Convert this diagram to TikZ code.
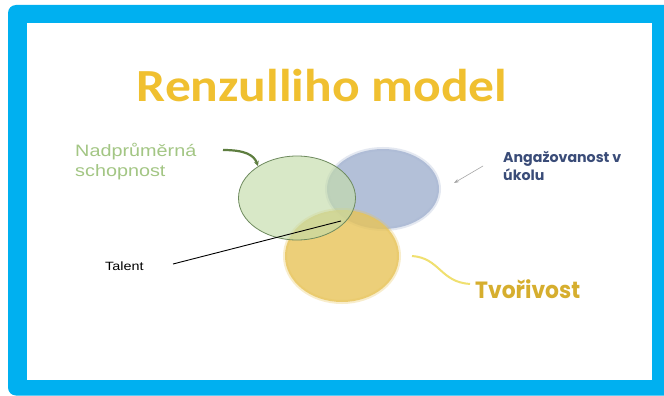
\documentclass[tikz,border=0pt]{standalone}
\usepackage{fontspec}
\setmainfont{Liberation Sans}
\newfontfamily\titlefont{Carlito}
\newfontfamily\roundfont{Poppins}
\usetikzlibrary{shapes.geometric,arrows.meta}

\definecolor{framebl}{HTML}{00B0F0}
\definecolor{titlegold}{HTML}{F0C030}
\definecolor{setgreen}{HTML}{C4DCAA}
\definecolor{setgreenline}{HTML}{6E8A5E}
\definecolor{setblue}{HTML}{A6B6D2}
\definecolor{setyellow}{HTML}{E8C458}
\definecolor{lblgreen}{HTML}{A3C684}
\definecolor{lblblue}{HTML}{3A4C78}
\definecolor{lblgold}{HTML}{D6AE2E}
\definecolor{arrgreen}{HTML}{5E7E40}
\definecolor{arryellow}{HTML}{F0E070}

\tikzset{
  setellipse/.style={ellipse, inner sep=0pt},
  lbl/.style={inner sep=0pt, xscale=1.2, align=left}
}

\begin{document}
\begin{tikzpicture}[x=1pt,y=-1pt]
\useasboundingbox (0,0) rectangle (664,396);

% blue frame and white slide
\begin{scope}
\clip (0,0) rectangle (664,396);
\fill[framebl, rounded corners=8pt] (8,5) rectangle (690,395.5);
\end{scope}
\fill[white] (27,23) rectangle (652,380);

% title
\node[titlegold, xscale=1.12, inner sep=0pt, anchor=base] (title) at (322,102)
  {\titlefont\bfseries\fontsize{46}{50}\selectfont Renzulliho model};

% the three sets
\node[setellipse, fill=setblue, fill opacity=0.85, draw=setblue, draw opacity=0.3, line width=4pt,
  minimum width=112pt, minimum height=80pt] (blue) at (383,189) {};
\node[setellipse, fill=setyellow, fill opacity=0.8, draw=setyellow, draw opacity=0.3, line width=4pt,
  minimum width=114pt, minimum height=92pt] (yellow) at (342,256) {};
\node[setellipse, fill=setgreen, fill opacity=0.65, draw=setgreenline, line width=0.8pt,
  minimum width=117pt, minimum height=84pt] (green) at (297,198) {};

% labels
\node[lbl, lblgreen, anchor=north west, font={\fontsize{16.5}{20}\selectfont}] (nadprum) at (75,143)
  {Nadprůměrná\\schopnost};
\node[lbl, black, anchor=base west, font={\fontsize{12}{14}\selectfont}] (talent) at (105,270)
  {Talent};
\node[inner sep=0pt, lblblue, anchor=north west, align=left,
  font={\roundfont\bfseries\fontsize{14.2}{18}\selectfont}] (angaz) at (503,151)
  {Angažovanost v\\úkolu};
\node[inner sep=0pt, lblgold, anchor=base west, xscale=0.93,
  font={\roundfont\bfseries\fontsize{23.5}{28}\selectfont}] (tvoriv) at (475,298)
  {Tvořivost};

% connectors
\coordinate (greenfoot) at (223,150);
\coordinate (greentip) at (258,166);
\coordinate (bluefoot) at (483,166);
\coordinate (bluetip) at (454,183);
\coordinate (talentfoot) at (173,264);
\coordinate (talenttip) at (341,221);
\coordinate (yellowstart) at (412,256);
\coordinate (yellowend) at (470,284);
\draw[arrgreen, line width=2.2pt, -{Stealth[length=5pt,width=5pt]}]
  (greenfoot) .. controls (245,150) and (254,155) .. (greentip);
\draw[gray!70, line width=0.6pt, -{Stealth[length=5pt,width=3.5pt]}]
  (bluefoot) -- (bluetip);
\draw[black, line width=0.9pt] (talentfoot) -- (talenttip);
\draw[arryellow, line width=2pt]
  (yellowstart) .. controls (440,258) and (440,282) .. (yellowend);

\end{tikzpicture}
\end{document}
